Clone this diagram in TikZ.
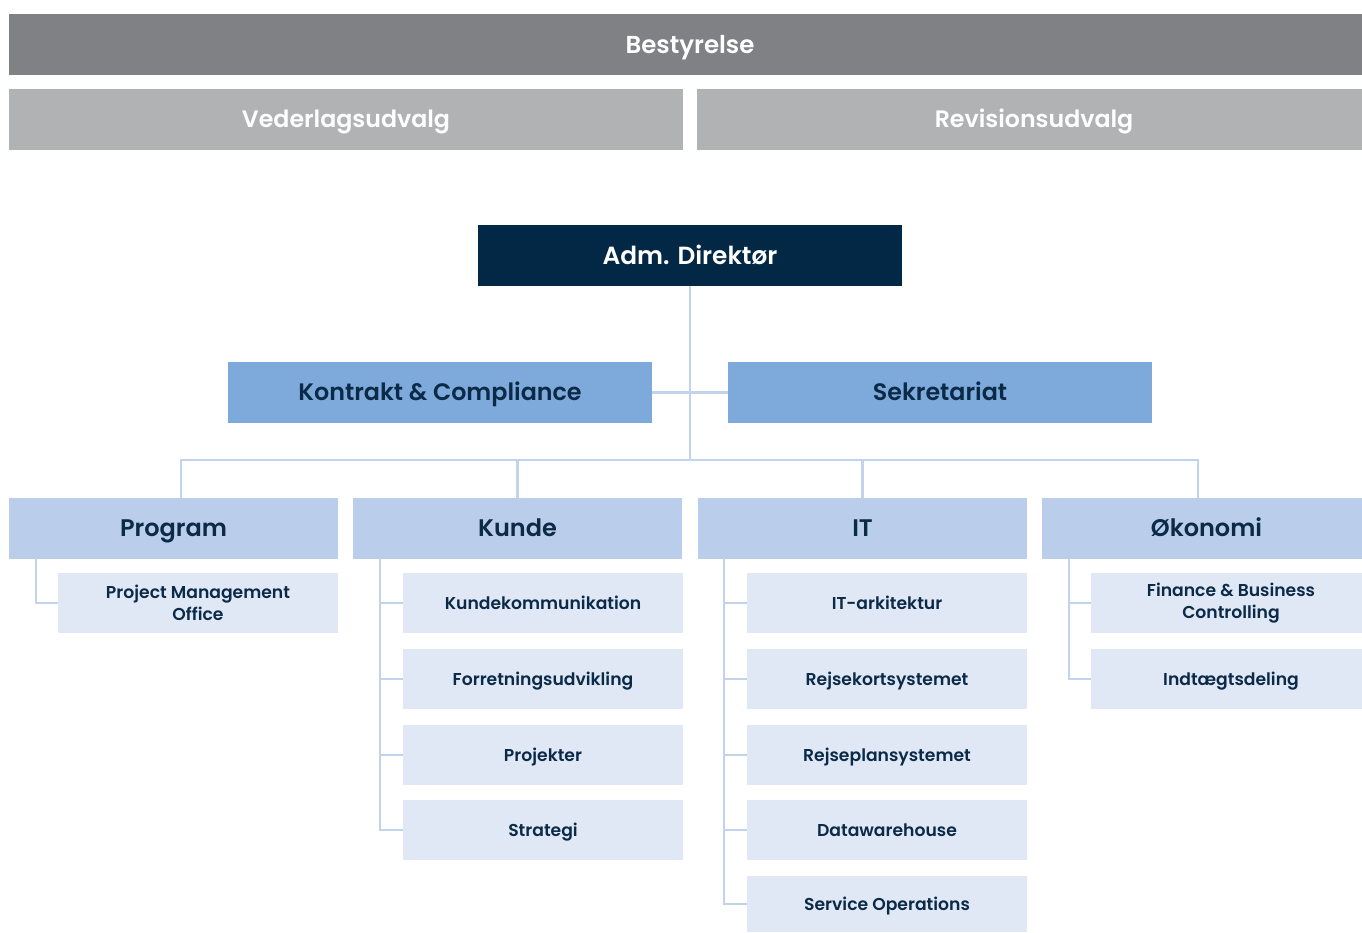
\documentclass[tikz,border=0pt]{standalone}
\usepackage{fontspec}
\setmainfont{Poppins SemiBold}
\definecolor{cTop}{HTML}{808185}
\definecolor{cCom}{HTML}{B1B2B4}
\definecolor{cDir}{HTML}{022845}
\definecolor{cMid}{HTML}{7EAADB}
\definecolor{cLev}{HTML}{BACDEB}
\definecolor{cSub}{HTML}{E0E8F5}
\definecolor{cLine}{HTML}{C2D3EE}
\definecolor{cTxt}{HTML}{0B2A47}
\tikzset{
  box/.style={rectangle, inner sep=0pt, minimum height=61pt, align=center},
  one/.style={text height=#1, text depth=0pt},
  topbox/.style={box, one=17.2pt, fill=cTop, text=white, font=\fontsize{24.5}{27}\selectfont},
  combox/.style={box, one=16.6pt, fill=cCom, text=white, minimum width=674pt, font=\fontsize{23.7}{26}\selectfont},
  dirbox/.style={box, one=17.4pt, fill=cDir, text=white, minimum width=424pt, font=\fontsize{24.8}{27}\selectfont},
  midbox/.style={box, one=16.7pt, fill=cMid, text=cTxt, minimum width=424pt, font=\fontsize{23.8}{26}\selectfont},
  levbox/.style={box, one=16.8pt, fill=cLev, text=cTxt, minimum width=329pt, font=\fontsize{24}{26}\selectfont},
  subbox/.style={box, fill=cSub, text=cTxt, minimum width=280pt, minimum height=60pt, font=\fontsize{17.2}{22}\selectfont},
  subone/.style={subbox, one=12pt},
  link/.style={draw=cLine, line width=2.6pt}
}
\begin{document}
\begin{tikzpicture}[x=1pt,y=-1pt]
\useasboundingbox (0,0) rectangle (1362,932);
% top
\node[topbox, minimum width=1362pt] (best) at (690,44.5) {Bestyrelse};
\node[combox] (veder) at (346,119.5) {Vederlagsudvalg};
\node[combox] (revis) at (1034,119.5) {Revisionsudvalg};
% director
\node[dirbox] (dir) at (690,255.5) {Adm. Direktør};
\node[midbox] (kc) at (440,392.5) {Kontrakt \& Compliance};
\node[midbox] (sek) at (940,392.5) {Sekretariat};
\coordinate (j2) at (690,460);
% level
\node[levbox] (prog) at (173.5,528.5) {Program};
\node[levbox] (kunde) at (517.5,528.5) {Kunde};
\node[levbox] (it) at (862.5,528.5) {IT};
\node[levbox] (oko) at (1206.5,528.5) {Økonomi};
% subs
\node[subbox] (pmo) at (198,603) {Project Management\\Office};
\node[subone] (k1) at (543,603) {Kundekommunikation};
\node[subone] (k2) at (543,679) {Forretningsudvikling};
\node[subone] (k3) at (543,755) {Projekter};
\node[subone] (k4) at (543,830) {Strategi};
\node[subone] (i1) at (887,603) {IT-arkitektur};
\node[subone] (i2) at (887,679) {Rejsekortsystemet};
\node[subone] (i3) at (887,755) {Rejseplansystemet};
\node[subone] (i4) at (887,830) {Datawarehouse};
\node[subone, minimum height=56pt] (i5) at (887,904) {Service Operations};
\node[subbox] (o1) at (1231,603) {Finance \& Business\\Controlling};
\node[subone] (o2) at (1231,679) {Indtægtsdeling};
% connectors
\draw[link] (dir.south) -- (j2);
\draw[link] (kc.east) -- (sek.west);
\draw[link] ([xshift=7.5pt]prog.north) |- (j2);
\draw[link] ([xshift=-8.5pt]oko.north) |- (j2);
\draw[link] (kunde.north) -- (kunde.north |- j2);
\draw[link] (it.north) -- (it.north |- j2);
\draw[link] ([xshift=27pt]prog.south west) |- (pmo.west);
\draw[link] ([xshift=27pt]kunde.south west) |- (k1.west);
\draw[link] ([xshift=27pt]kunde.south west) |- (k2.west);
\draw[link] ([xshift=27pt]kunde.south west) |- (k3.west);
\draw[link] ([xshift=27pt]kunde.south west) |- (k4.west);
\draw[link] ([xshift=26pt]it.south west) |- (i1.west);
\draw[link] ([xshift=26pt]it.south west) |- (i2.west);
\draw[link] ([xshift=26pt]it.south west) |- (i3.west);
\draw[link] ([xshift=26pt]it.south west) |- (i4.west);
\draw[link] ([xshift=26pt]it.south west) |- (i5.west);
\draw[link] ([xshift=27pt]oko.south west) |- (o1.west);
\draw[link] ([xshift=27pt]oko.south west) |- (o2.west);
\end{tikzpicture}
\end{document}
